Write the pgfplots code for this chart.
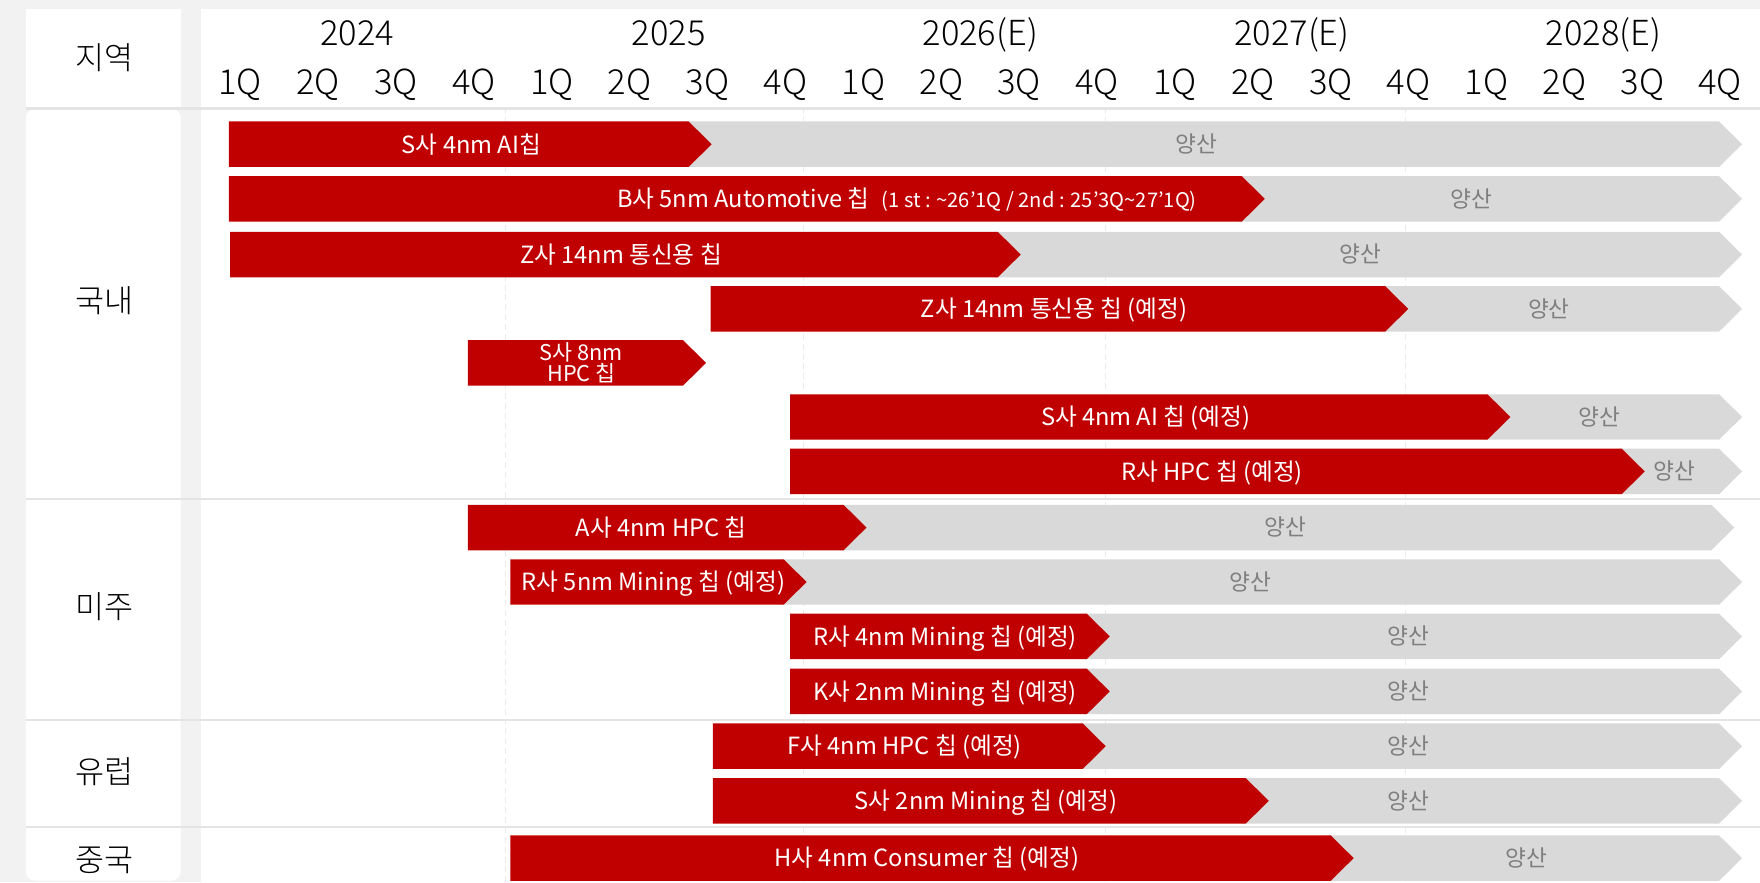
\documentclass[border=0pt]{standalone}
\usepackage{fontspec}
\setmainfont{Noto Sans CJK KR}
\newfontfamily\lightfont{Noto Sans CJK KR Light}
\usepackage{pgfplots}
\pgfplotsset{compat=1.18}

\definecolor{barred}{HTML}{C00000}
\definecolor{bargray}{HTML}{D9D9D9}
\definecolor{txtgray}{HTML}{7F7F7F}
\definecolor{bgpanel}{HTML}{F2F2F2}
\definecolor{sepline}{HTML}{E4E4E4}
\definecolor{gridline}{HTML}{EBEBEB}

% x: quarters (0 = 2024 1Q), y: rows measured from the bottom
\newcommand{\arrw}{0.2954}
\newcommand{\halfh}{20.25}

% chevron bar: start, tip, row y, colour
\newcommand{\chev}[4]{%
  \pgfmathsetmacro{\xa}{#1}%
  \pgfmathsetmacro{\xb}{#2-\arrw}%
  \pgfmathsetmacro{\ya}{#3-\halfh}%
  \pgfmathsetmacro{\yb}{#3+\halfh}%
  \edef\temp{\noexpand\addplot[fill=#4, draw=none, forget plot] coordinates {(\xa,\ya) (\xb,\ya) (#2,#3) (\xb,\yb) (\xa,\yb)};}%
  \temp
}
% task: row y, start, red tip, gray tip
\newcommand{\task}[4]{%
  \pgfmathsetmacro{\gs}{#3-\arrw-0.05}%
  \chev{\gs}{#4}{#1}{bargray}%
  \chev{#2}{#3}{#1}{barred}%
}

\tikzset{
  lab/.style={font=\fontsize{12}{14}\selectfont, text=white, text height=9.6pt, text depth=0.7pt, inner sep=0pt},
  ys/.style={font=\fontsize{11.5}{14}\selectfont, text=txtgray, text height=9.2pt, text depth=0.7pt, inner sep=0pt},
  hdr/.style={font=\lightfont\fontsize{17.5}{20}\selectfont, text height=14pt, text depth=1pt, inner sep=0pt},
  reg/.style={font=\lightfont\fontsize{16}{20}\selectfont, text height=12.8pt, text depth=1pt, inner sep=0pt}
}
\newcommand{\lbl}[3]{\node[lab] at (axis cs:#1,#2) {#3};}
\newcommand{\yl}[2]{\node[ys] at (axis cs:#1,#2) {양산};}

\begin{document}
\begin{tikzpicture}
\useasboundingbox (0,0) rectangle (313.6mm,157.2mm);
% panels and separators
\begin{scope}[x=0.2mm, y=0.2mm]
  \fill[bgpanel] (0,0) rectangle (1568,786);
  \fill[white] (23,778) rectangle (161,690);
  \fill[white, rounded corners=1.6mm] (23,1.5) rectangle (161,689);
  \fill[white] (179,0) rectangle (1568,778);
  \foreach \gx in {450,716,985,1252}
    \draw[gridline, dash pattern=on 3pt off 2pt, line width=0.5pt] (\gx,0) -- (\gx,688);
  \foreach \sy in {689.5,341.4,144.5,49.2}
    \draw[sepline, line width=0.45mm] (23,\sy) -- (1568,\sy);
\end{scope}

\begin{axis}[
    at={(0,0)}, anchor=south west,
    width=313.6mm, height=157.2mm, scale only axis,
    xmin=-3.0836, xmax=19.5101, ymin=0, ymax=786,
    clip=false,
    axis line style={draw=none},
    major tick length=0pt,
    ytick=\empty,
    xtick={0,...,19},
    xticklabels={1Q,2Q,3Q,4Q,1Q,2Q,3Q,4Q,1Q,2Q,3Q,4Q,1Q,2Q,3Q,4Q,1Q,2Q,3Q,4Q},
    xticklabel pos=upper,
    xticklabel style={font=\lightfont\fontsize{17.5}{20}\selectfont, anchor=center, yshift=-14.6mm, text height=14pt, text depth=1pt, inner sep=0pt},
]
% rows: y, start, red tip, gray tip
\task{657.5}{-0.144}{6.052}{19.28}
\task{608.8}{-0.144}{13.153}{19.28}
\task{559.2}{-0.130}{10.02}{19.28}
\task{510.8}{6.040}{14.994}{19.28}
\chev{2.923}{5.98}{462.7}{barred}
\task{414.5}{7.058}{16.306}{19.28}
\task{366.0}{7.058}{18.03}{19.28}
\task{316.0}{2.923}{8.04}{19.18}
\task{267.5}{3.468}{7.271}{19.28}
\task{219.0}{7.058}{11.163}{19.28}
\task{170.0}{7.058}{11.163}{19.28}
\task{121.2}{6.069}{11.111}{19.28}
\task{72.5}{6.069}{13.204}{19.28}
\task{21.5}{3.468}{14.294}{19.28}

% header
\node[reg] at (axis cs:-1.7435,734) {지역};
\node[hdr] at (axis cs:1.5,757) {2024};
\node[hdr] at (axis cs:5.5,757) {2025};
\node[hdr] at (axis cs:9.5,757) {2026(E)};
\node[hdr] at (axis cs:13.5,757) {2027(E)};
\node[hdr] at (axis cs:17.5,757) {2028(E)};

% regions
\node[reg] at (axis cs:-1.7435,518) {국내};
\node[reg] at (axis cs:-1.7435,245) {미주};
\node[reg] at (axis cs:-1.7435,98) {유럽};
\node[reg] at (axis cs:-1.7435,20) {중국};

% bar labels
\lbl{2.968}{657.5}{S사 4nm AI칩}
\yl{12.277}{657.5}
\lbl{8.559}{608.8}{B사 5nm Automotive 칩\hspace{6pt}{\fontsize{10.2}{12}\selectfont(1 st : \textasciitilde 26’1Q / 2nd : 25’3Q\textasciitilde 27’1Q)}}
\yl{15.807}{608.8}
\node[lab, anchor=west] at (axis cs:3.588,559.2) {Z사 14nm 통신용 칩};
\yl{14.380}{559.2}
\lbl{10.447}{510.8}{Z사 14nm 통신용 칩 (예정)}
\yl{16.801}{510.8}
\node[font=\fontsize{11}{10.8}\selectfont, text=white, align=center, inner sep=0pt] at (axis cs:4.38,462.7) {S사 8nm\\HPC 칩};
\lbl{11.623}{414.5}{S사 4nm AI 칩 (예정)}
\yl{17.445}{414.5}
\lbl{12.478}{366}{R사 HPC 칩 (예정)}
\yl{18.41}{366}
\lbl{5.405}{316}{A사 4nm HPC 칩}
\yl{13.42}{316}
\lbl{5.305}{267.5}{R사 5nm Mining 칩 (예정)}
\yl{12.968}{267.5}
\lbl{9.05}{219}{R사 4nm Mining 칩 (예정)}
\yl{15.0}{219}
\lbl{9.05}{170}{K사 2nm Mining 칩 (예정)}
\yl{15.0}{170}
\lbl{8.53}{121.2}{F사 4nm HPC 칩 (예정)}
\yl{15.0}{121.2}
\lbl{9.573}{72.5}{S사 2nm Mining 칩 (예정)}
\yl{15.0}{72.5}
\lbl{8.816}{21.5}{H사 4nm Consumer 칩 (예정)}
\yl{16.51}{21.5}
\end{axis}
\end{tikzpicture}
\end{document}
